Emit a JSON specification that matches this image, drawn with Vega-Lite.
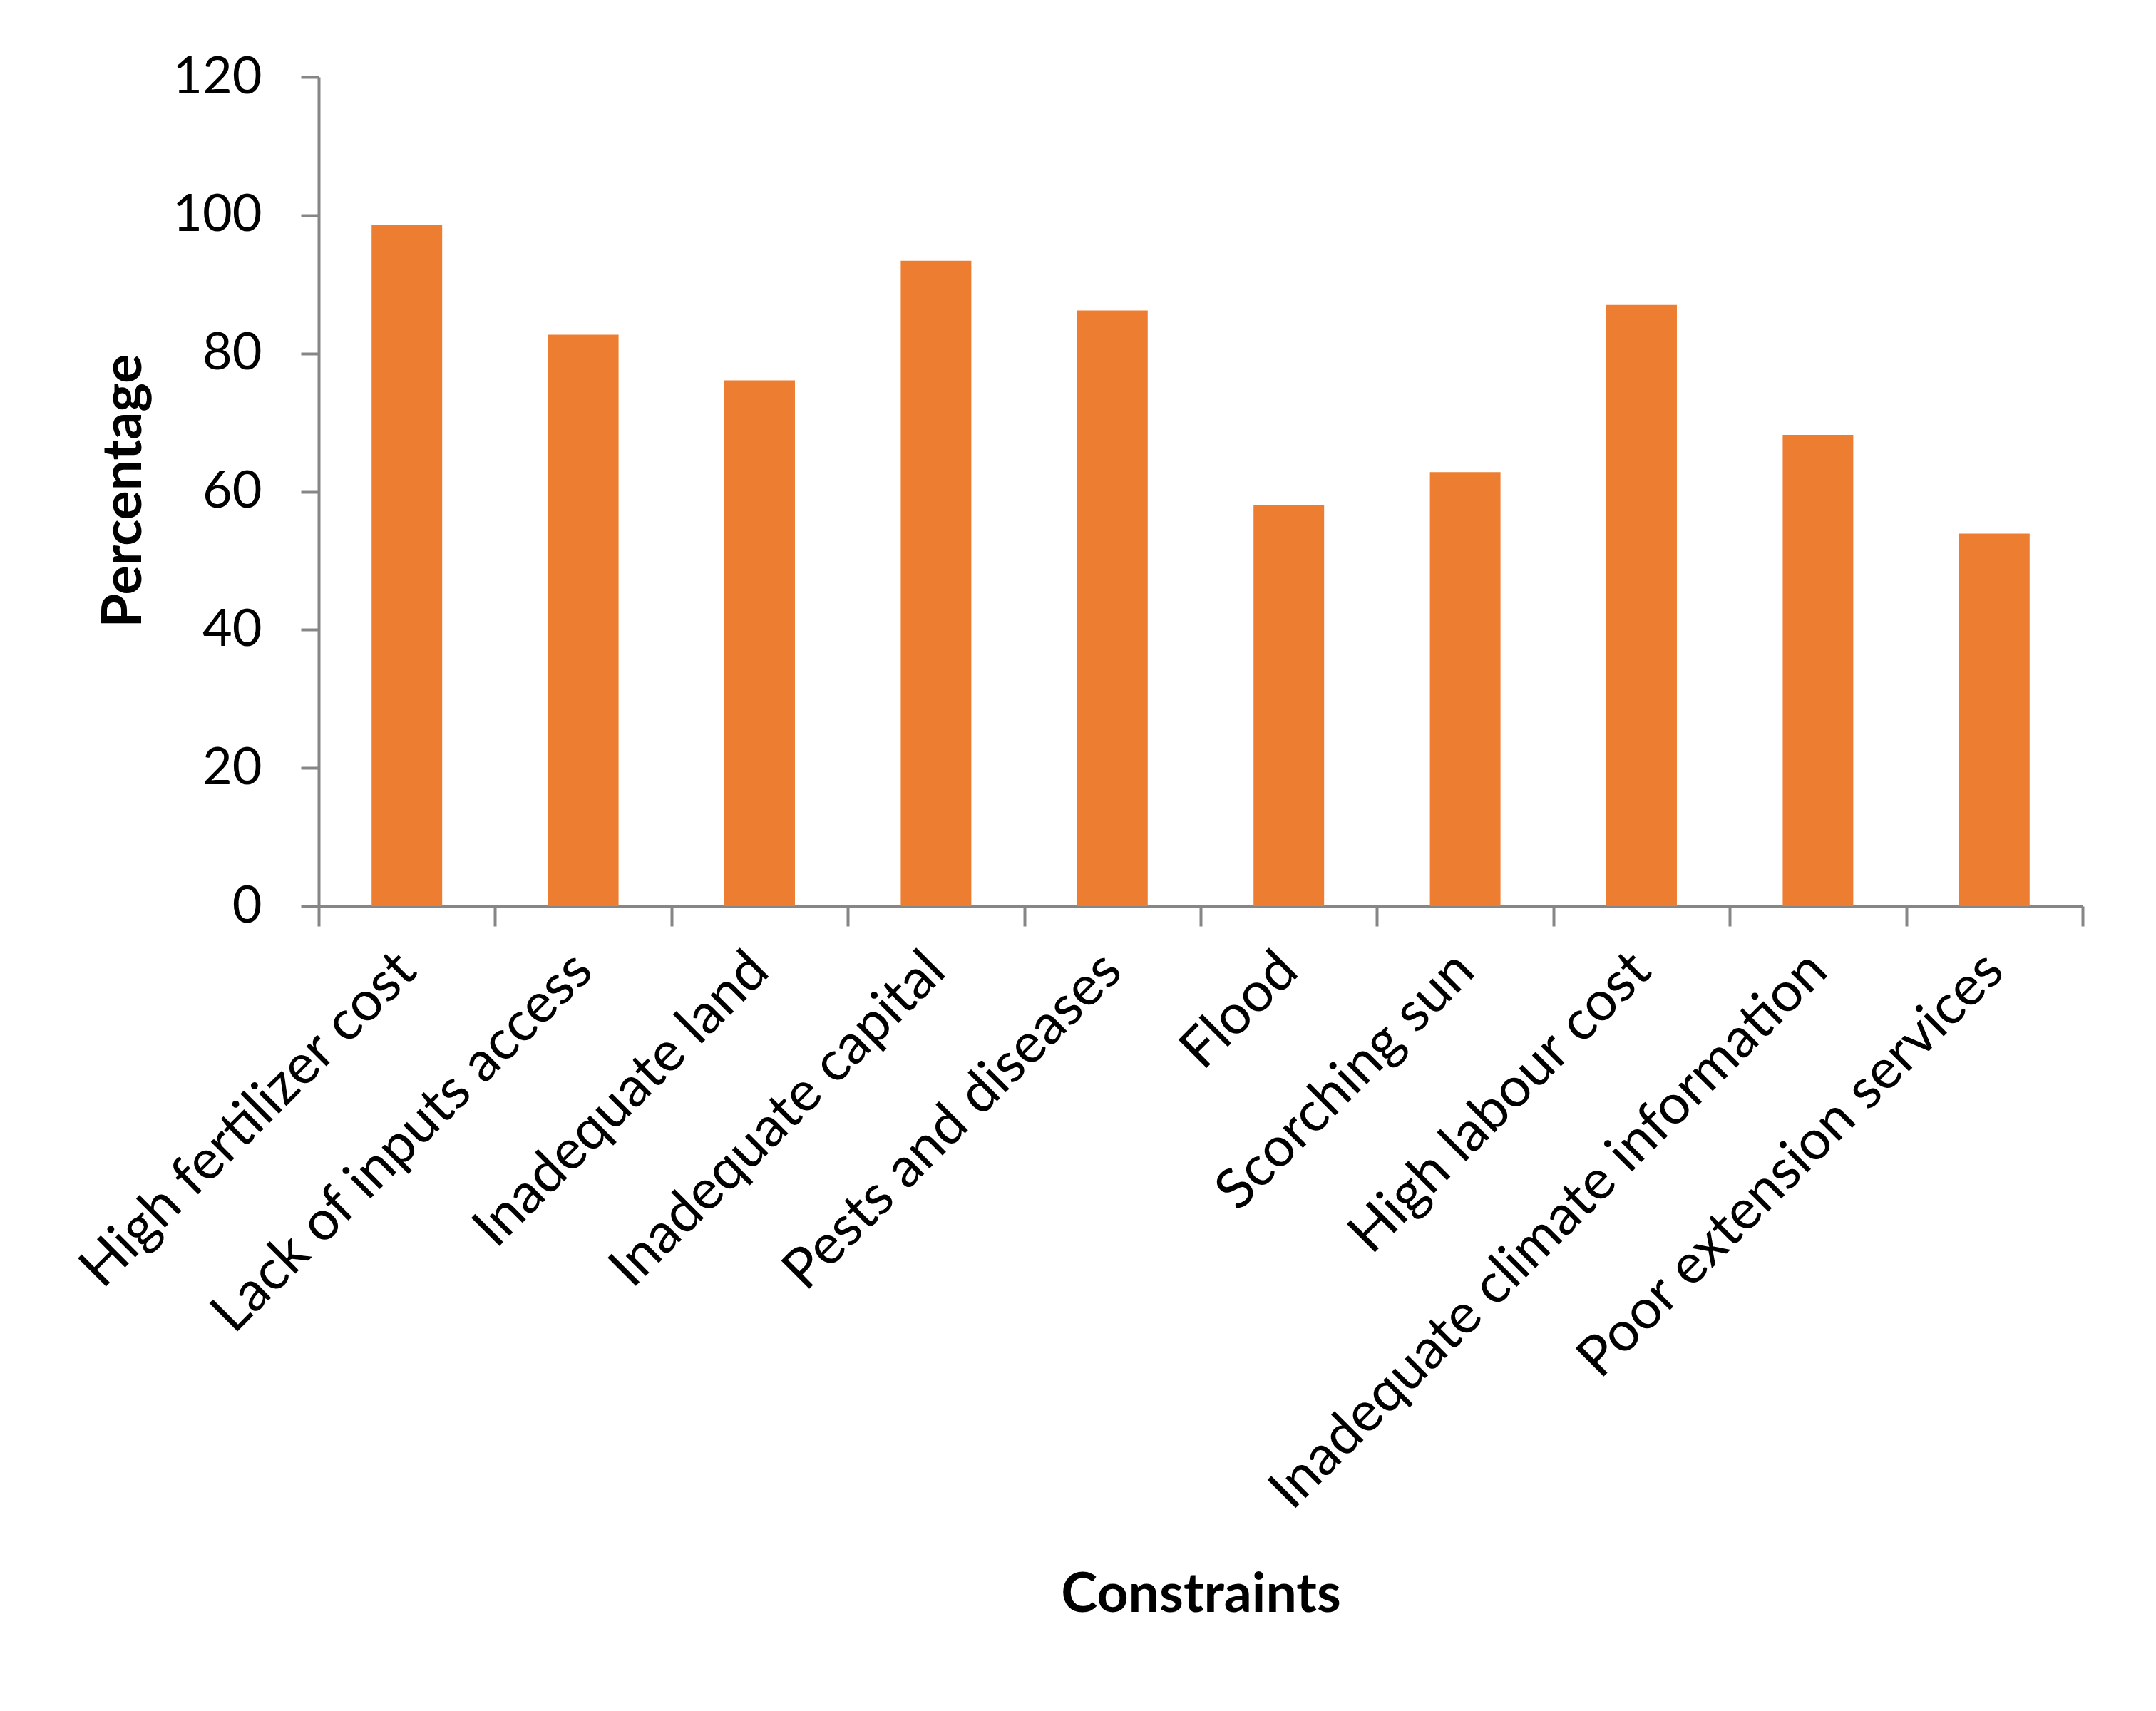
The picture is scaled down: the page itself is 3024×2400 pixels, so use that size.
{
  "$schema": "https://vega.github.io/schema/vega-lite/v6.json",
  "width": 2474,
  "height": 1163,
  "autosize": {"type": "none"},
  "padding": {"left": 447, "top": 108, "right": 103, "bottom": 1129},
  "background": "white",
  "config": {"view": {"stroke": null}, "font": "Lato"},
  "data": {
    "values": [
      {"constraint": "High fertilizer cost", "percentage": 98.6},
      {"constraint": "Lack of inputs access", "percentage": 82.7},
      {"constraint": "Inadequate land", "percentage": 76.1},
      {"constraint": "Inadequate capital", "percentage": 93.4},
      {"constraint": "Pests and diseases", "percentage": 86.2},
      {"constraint": "Flood", "percentage": 58.1},
      {"constraint": "Scorching sun", "percentage": 62.8},
      {"constraint": "High labour cost", "percentage": 87.0},
      {"constraint": "Inadequate climate information", "percentage": 68.2},
      {"constraint": "Poor extension services", "percentage": 53.9}
    ]
  },
  "mark": {"type": "bar", "color": "#ED7D31", "width": {"band": 0.4}},
  "encoding": {
    "x": {
      "field": "constraint",
      "type": "nominal",
      "sort": null,
      "scale": {"paddingInner": 0, "paddingOuter": 0},
      "axis": {
        "title": "Constraints",
        "titleFontSize": 77,
        "titleFontWeight": "bold",
        "titleColor": "black",
        "titleBaseline": "alphabetic",
        "titleY": 989,
        "labelAngle": -45,
        "labelAlign": "right",
        "labelBaseline": "middle",
        "labelFontSize": 78,
        "labelColor": "black",
        "labelPadding": 50,
        "labelLimit": 0,
        "labelOverlap": false,
        "domainColor": "#868686",
        "domainWidth": 4,
        "tickColor": "#868686",
        "tickWidth": 4,
        "tickSize": 28,
        "tickBand": "extent"
      }
    },
    "y": {
      "field": "percentage",
      "type": "quantitative",
      "scale": {"domain": [0, 120]},
      "axis": {
        "title": "Percentage",
        "titleFontSize": 77,
        "titleFontWeight": "bold",
        "titleColor": "black",
        "titleBaseline": "alphabetic",
        "titleAngle": -90,
        "titleX": -250,
        "titleY": 580,
        "values": [0, 20, 40, 60, 80, 100, 120],
        "labelFontSize": 72,
        "labelColor": "black",
        "labelPadding": 55,
        "grid": false,
        "domainColor": "#868686",
        "domainWidth": 4,
        "tickColor": "#868686",
        "tickWidth": 4,
        "tickSize": 25
      }
    }
  }
}
